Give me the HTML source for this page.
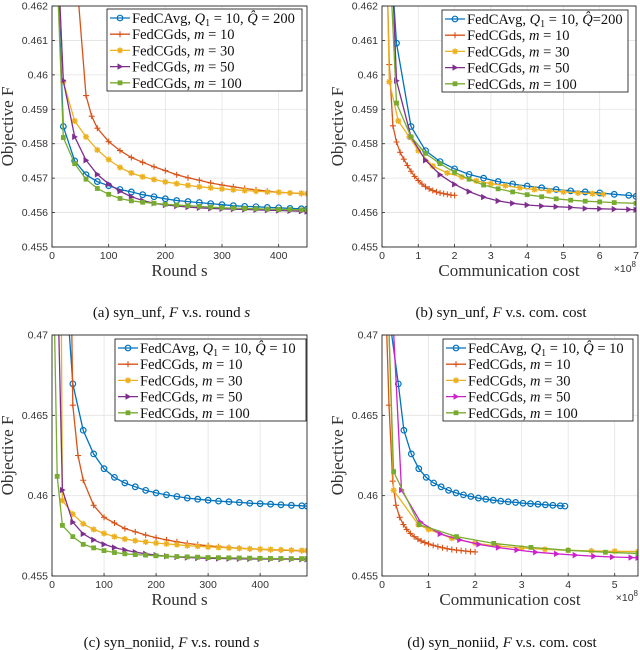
<!DOCTYPE html>
<html><head><meta charset="utf-8">
<style>
html,body{margin:0;padding:0;background:#fff;}
svg{display:block;}
.tick{font-family:"Liberation Sans",sans-serif;font-size:10.5px;fill:#333;}
.lab{font-family:"Liberation Serif",serif;font-size:17px;fill:#333;}
.leg{font-family:"Liberation Serif",serif;font-size:14.5px;fill:#111;}
.cap{font-family:"Liberation Serif",serif;font-size:15px;fill:#111;}
</style></head>
<body>
<svg id="fig" width="640" height="650" viewBox="0 0 640 650" xmlns="http://www.w3.org/2000/svg"></svg>
<script>
// ---- data: panel (a) syn_unf vs round ----
const aRounds = [10,20,40,60,80,100,120,140,160,180,200,220,240,260,280,300,320,340,360,380,400,420,440,450];
const aBlue = [0.4630,0.4585,0.4575,0.4571,0.4569,0.45678,0.45667,0.4566,0.45652,0.45646,0.4564,0.45635,0.45632,0.45629,0.45626,0.45623,0.4562,0.45618,0.45617,0.45615,0.45614,0.45612,0.45611,0.4561];
const aRedX = [45,60,70,80,100,120,140,160,180,200,220,240,260,280,300,320,340,360,380,400,420,440,450];
const aRed = [0.4625,0.4594,0.4588,0.45845,0.45806,0.4578,0.4576,0.45746,0.45733,0.45722,0.4571,0.45701,0.45694,0.45686,0.4568,0.45675,0.4567,0.45666,0.45662,0.45659,0.45657,0.45655,0.45654];
const aYellow = [0.4635,0.4598,0.45866,0.4582,0.45782,0.45754,0.45731,0.45715,0.45704,0.45696,0.45689,0.45684,0.45679,0.45675,0.45672,0.45669,0.45666,0.45664,0.45662,0.4566,0.45659,0.45657,0.45656,0.45655];
const aPurple = [0.4635,0.45983,0.4582,0.45752,0.45711,0.45683,0.45662,0.45646,0.45635,0.45627,0.45622,0.45619,0.45616,0.45614,0.45612,0.45611,0.4561,0.45609,0.45608,0.45607,0.45606,0.45605,0.45604,0.45603];
const aGreen = [0.4625,0.45818,0.45742,0.45697,0.4567,0.45653,0.45641,0.45634,0.4563,0.45627,0.45624,0.45622,0.4562,0.45618,0.45616,0.45614,0.45613,0.45612,0.45611,0.4561,0.45609,0.45609,0.45608,0.45608];
// ---- panel (b) syn_unf vs communication cost (x1e8) ----
const bBlueX = [0.3,0.4,0.8,1.2,1.6,2.0,2.4,2.8,3.2,3.6,4.0,4.4,4.8,5.2,5.6,6.0,6.4,6.8,7.0];
const bBlue = [0.4625,0.46092,0.4585,0.4578,0.45748,0.45727,0.45711,0.457,0.4569,0.45683,0.45677,0.45672,0.45667,0.45663,0.4566,0.45657,0.45653,0.4565,0.45647];
const bRedX = [0.15,0.2,0.3,0.4,0.5,0.6,0.7,0.8,0.9,1.0,1.1,1.2,1.3,1.4,1.5,1.6,1.7,1.8,1.9,2.0];
const bRed = [0.4625,0.4603,0.45852,0.45805,0.45775,0.45755,0.45737,0.4572,0.45705,0.45693,0.45683,0.45675,0.45669,0.45664,0.4566,0.45657,0.45655,0.45653,0.45651,0.4565];
const bYellowX = [0.15,0.2,0.45,0.75,1.0,1.4,1.8,2.2,2.6,3.0,3.4,3.8,4.2,4.6,5.0,5.4,5.8,6.1];
const bYellow = [0.4625,0.4598,0.45866,0.4582,0.4578,0.45735,0.45715,0.45703,0.45692,0.45684,0.45678,0.45672,0.45667,0.45663,0.4566,0.45657,0.45655,0.45653];
const bPurpleX = [0.3,0.4,0.8,1.2,1.6,2.0,2.4,2.8,3.2,3.6,4.0,4.4,4.8,5.2,5.6,6.0,6.4,6.8,7.0];
const bPurple = [0.4625,0.45983,0.4582,0.45752,0.4571,0.45682,0.45661,0.45645,0.45634,0.45627,0.45622,0.45619,0.45617,0.45615,0.45612,0.45611,0.4561,0.45609,0.45608];
const bGreenX = [0.25,0.4,0.8,1.2,1.6,2.0,2.4,2.8,3.2,3.6,4.0,4.4,4.8,5.2,5.6,6.0,6.4,7.0];
const bGreen = [0.4625,0.45918,0.4582,0.45772,0.45742,0.45717,0.45697,0.4568,0.45669,0.4566,0.45652,0.45646,0.4564,0.45636,0.45633,0.45631,0.45629,0.45627];
// ---- panel (c) syn_noniid vs round ----
const cBlueX = [33,40,60,80,100,120,140,160,180,200,220,240,260,280,300,320,340,360,380,400,420,440,460,480,490];
const cBlue = [0.4702,0.46696,0.46407,0.4626,0.46168,0.46114,0.46079,0.46055,0.46033,0.46017,0.46005,0.45995,0.45985,0.45978,0.45972,0.45966,0.45962,0.45958,0.45953,0.4595,0.45947,0.45943,0.4594,0.45937,0.45935];
const cRedX = [38,40,50,60,80,100,120,140,160,180,200,220,240,260,280,300,320,340,360,380,400,420,440,460,480,490];
const cRed = [0.4702,0.46563,0.4625,0.46096,0.4594,0.45865,0.4583,0.45795,0.45775,0.45755,0.45738,0.45725,0.45713,0.45703,0.45695,0.45688,0.45682,0.45677,0.45673,0.45669,0.45666,0.45663,0.45661,0.45659,0.45657,0.45655];
const cYellowX = [18,20,40,60,80,100,120,140,160,180,200,220,240,260,280,300,320,340,360,380,400,420,440,460,480,490];
const cYellow = [0.4702,0.4597,0.45885,0.45825,0.4579,0.45765,0.45745,0.4573,0.4572,0.45712,0.45705,0.457,0.45695,0.45689,0.45685,0.45681,0.45678,0.45675,0.45672,0.45669,0.45667,0.45665,0.45663,0.45661,0.45659,0.45658];
const cPurpleX = [13,20,40,60,80,100,120,140,160,180,200,220,240,260,280,300,320,340,360,380,400,420,440,460,480,490];
const cPurple = [0.4702,0.46035,0.45835,0.45762,0.45725,0.45697,0.45677,0.45662,0.45648,0.45638,0.4563,0.45623,0.45618,0.45615,0.45612,0.4561,0.45609,0.45608,0.45607,0.45606,0.45606,0.45605,0.45605,0.45605,0.45604,0.45604];
const cGreenX = [5,10,20,40,60,80,100,120,140,160,180,200,220,240,260,280,300,320,340,360,380,400,420,440,460,480,490];
const cGreen = [0.4702,0.4612,0.45815,0.45745,0.45697,0.45675,0.45658,0.45646,0.45638,0.45633,0.4563,0.45626,0.45623,0.45621,0.45619,0.45617,0.45615,0.45614,0.45613,0.45612,0.45611,0.4561,0.45609,0.45609,0.45608,0.45608,0.45608];
// ---- panel (d) syn_noniid vs communication cost (x1e8) ----
const dBlueX = [0.2,0.35,0.47,0.63,0.79,0.95,1.11,1.27,1.43,1.59,1.75,1.91,2.07,2.23,2.39,2.55,2.71,2.87,3.03,3.19,3.35,3.51,3.67,3.83,3.93];
const dBlue = [0.4702,0.46696,0.46407,0.4626,0.46168,0.46114,0.46079,0.46055,0.46033,0.46017,0.46005,0.45995,0.45985,0.45978,0.45972,0.45966,0.45962,0.45958,0.45953,0.4595,0.45947,0.45943,0.4594,0.45937,0.45935];
const dRedX = [0.1,0.15,0.23,0.3,0.38,0.46,0.53,0.61,0.69,0.77,0.84,0.92,1.0,1.1,1.2,1.3,1.4,1.5,1.6,1.7,1.8,1.9,2.0];
const dRed = [0.4702,0.46563,0.4609,0.4594,0.45865,0.4582,0.4579,0.45765,0.45745,0.4573,0.45718,0.45708,0.457,0.45691,0.45683,0.45676,0.4567,0.45665,0.45661,0.45658,0.45655,0.45652,0.4565];
const dYellowX = [0.15,0.25,0.78,1.0,1.5,2.0,2.5,3.0,3.5,4.0,4.5,5.0,5.5];
const dYellow = [0.4702,0.46033,0.4582,0.4579,0.45735,0.45705,0.45686,0.45674,0.45666,0.4566,0.45656,0.45654,0.45652];
const dPurpleX = [0.25,0.42,0.83,1.25,1.67,2.08,2.5,2.9,3.3,3.75,4.15,4.55,4.95,5.35,5.5];
const dPurple = [0.4702,0.46035,0.45835,0.45762,0.45725,0.45697,0.45677,0.45662,0.45648,0.45638,0.4563,0.45623,0.45618,0.45615,0.45613];
const dGreenX = [0.15,0.25,0.8,1.6,2.4,3.2,4.0,4.8,5.5];
const dGreen = [0.4702,0.4615,0.4582,0.45745,0.45703,0.45678,0.4566,0.45648,0.4564];
// tick labels
const ticksY1 = ["0.455","0.456","0.457","0.458","0.459","0.46","0.461","0.462"];
const ticksY1v = [0.455,0.456,0.457,0.458,0.459,0.46,0.461,0.462];
const ticksY2 = ["0.455","0.46","0.465","0.47"];
const ticksY2v = [0.455,0.46,0.465,0.47];
const ticksRound = [0,100,200,300,400];
const ticksCostB = [0,1,2,3,4,5,6,7];
const ticksCostD = [0,1,2,3,4,5];

const NS="http://www.w3.org/2000/svg";
const svg=document.getElementById('fig');
const C={blue:"#0072BD",red:"#D95319",yellow:"#EDB120",purple:"#7E2F8E",green:"#77AC30",magenta:"#CC22CC"};
function el(tag,attrs,parent){const e=document.createElementNS(NS,tag);for(const k in attrs)e.setAttribute(k,attrs[k]);(parent||svg).appendChild(e);return e;}

function marker(g,type,x,y,col){
  let m;
  if(type==='o'){m=el('circle',{cx:x,cy:y,r:2.8,fill:'none',stroke:col,'stroke-width':1.2},g);}
  else if(type==='+'){m=el('path',{d:`M${x-3},${y}H${x+3}M${x},${y-3}V${y+3}`,stroke:col,'stroke-width':1.1},g);}
  else if(type==='*'){m=el('path',{d:`M${x-3},${y}H${x+3}M${x},${y-3}V${y+3}M${x-2.2},${y-2.2}L${x+2.2},${y+2.2}M${x-2.2},${y+2.2}L${x+2.2},${y-2.2}`,stroke:col,'stroke-width':1.4},g);}
  else if(type==='>'){m=el('path',{d:`M${x-2.5},${y-3.2}L${x+3.2},${y}L${x-2.5},${y+3.2}Z`,fill:col},g);}
  else {m=el('rect',{x:x-2.4,y:y-2.4,width:4.8,height:4.8,fill:col},g);}
  
  
  return m;
}

function panel(o){
  const g=el('g',{});
  
  
  const L=o.L,R=o.R,T=o.T,B=o.B;
  const sx=v=>L+(v-o.x0)/(o.x1-o.x0)*(R-L);
  const sy=v=>B-(v-o.y0)/(o.y1-o.y0)*(B-T);
  el('rect',{x:L,y:T,width:R-L,height:B-T,fill:'#fff'},g);
  o.xt.forEach(v=>{const gl=el('line',{x1:sx(v),x2:sx(v),y1:T,y2:B,stroke:'#e3e3e3','stroke-width':0.8},g);});
  o.ytv.forEach(v=>{const gl=el('line',{x1:L,x2:R,y1:sy(v),y2:sy(v),stroke:'#e3e3e3','stroke-width':0.8},g);});
  const cp=el('clipPath',{id:'clip-'+o.id},g);
  el('rect',{x:L,y:T,width:R-L,height:B-T},cp);
  const sg=el('g',{'clip-path':`url(#clip-${o.id})`},g);
  
  
  o.series.forEach(s=>{
    const pts=s.x.map((xv,i)=>sx(xv).toFixed(1)+','+sy(s.y[i]).toFixed(1)).join(' ');
    const pl=el('polyline',{points:pts,fill:'none',stroke:s.c,'stroke-width':1.3},sg);
    
    
    s.x.forEach((xv,i)=>marker(sg,s.m,sx(xv),sy(s.y[i]),s.c));
  });
  const box=el('rect',{x:L,y:T,width:R-L,height:B-T,fill:'none',stroke:'#262626','stroke-width':0.9},g);
  
  
  o.xt.forEach((v,i)=>{
    el('line',{x1:sx(v),x2:sx(v),y1:B,y2:B-3,stroke:'#262626','stroke-width':0.8},g);
    const t=el('text',{x:sx(v),y:B+12,'text-anchor':'middle',class:'tick'},g);t.textContent=o.xtl[i];
    
  });
  o.ytv.forEach((v,i)=>{
    el('line',{x1:L,x2:L+3,y1:sy(v),y2:sy(v),stroke:'#262626','stroke-width':0.8},g);
    const t=el('text',{x:L-4,y:sy(v)+3.5,'text-anchor':'end',class:'tick'},g);t.textContent=o.ytl[i];
    
  });
  const xl=el('text',{x:(L+R)/2,y:B+29,'text-anchor':'middle',class:'lab'},g);xl.textContent=o.xlab;
  
  const yx=L-39, yy=(T+B)/2;
  const yl=el('text',{x:yx,y:yy,'text-anchor':'middle',class:'lab',transform:`rotate(-90 ${yx} ${yy})`},g);yl.textContent='Objective F';
  
  if(o.exp){
    const ex=el('text',{x:R,y:B+25,'text-anchor':'end',class:'tick','font-size':'10'},g);
    
    ex.innerHTML='×10<tspan dy="-5" font-size="8">8</tspan>';
  }
  const lg=el('g',{},g);
  
  
  el('rect',{x:o.lx,y:o.ly,width:o.lw,height:82,fill:'#fff',stroke:'#262626','stroke-width':0.9},lg);
  o.series.forEach((s,i)=>{
    const cy=o.ly+9+i*16.2;
    const e=el('g',{},lg);
    
    
    el('line',{x1:o.lx+3,x2:o.lx+23,y1:cy,y2:cy,stroke:s.c,'stroke-width':1.3},e);
    marker(e,s.m,o.lx+13,cy,s.c);
    const t=el('text',{x:o.lx+25,y:cy+5,class:'leg'},e);
    t.innerHTML=s.lab;
  });
  const cap=el('text',{x:(L+R)/2-8,y:o.capY,'text-anchor':'middle',class:'cap'},g);
  cap.innerHTML=o.cap;
  
}
const m=(v)=>`FedCGds, <tspan font-style="italic">m</tspan> = ${v}`;
const favg=(q)=>`FedCAvg, <tspan font-style="italic">Q</tspan><tspan font-size="10" dy="3">1</tspan><tspan dy="-3"> = 10, </tspan><tspan font-style="italic">Q̂</tspan>${q}`;

panel({id:'a',L:52,R:307,T:6,B:247,x0:0,x1:450,y0:0.455,y1:0.462,xt:ticksRound,xtl:ticksRound.map(String),ytv:ticksY1v,ytl:ticksY1,
 xlab:'Round s',lx:107,ly:9,lw:195,capY:317,cap:'(a)  syn_unf, <tspan font-style="italic">F</tspan> v.s. round <tspan font-style="italic">s</tspan>',
 series:[{n:'fedcavg',x:aRounds,y:aBlue,c:C.blue,m:'o',lab:favg(' = 200')},{n:'m10',x:aRedX,y:aRed,c:C.red,m:'+',lab:m(10)},
 {n:'m30',x:aRounds,y:aYellow,c:C.yellow,m:'*',lab:m(30)},{n:'m50',x:aRounds,y:aPurple,c:C.purple,m:'>',lab:m(50)},{n:'m100',x:aRounds,y:aGreen,c:C.green,m:'s',lab:m(100)}]});
panel({id:'b',L:382,R:636,T:6,B:247,x0:0,x1:7,y0:0.455,y1:0.462,xt:ticksCostB,xtl:ticksCostB.map(String),ytv:ticksY1v,ytl:ticksY1,exp:true,
 xlab:'Communication cost',lx:442,ly:10,lw:186,capY:317,cap:'(b)  syn_unf, <tspan font-style="italic">F</tspan> v.s. com. cost',
 series:[{n:'fedcavg',x:bBlueX,y:bBlue,c:C.blue,m:'o',lab:favg('=200')},{n:'m10',x:bRedX,y:bRed,c:C.red,m:'+',lab:m(10)},
 {n:'m30',x:bYellowX,y:bYellow,c:C.yellow,m:'*',lab:m(30)},{n:'m50',x:bPurpleX,y:bPurple,c:C.purple,m:'>',lab:m(50)},{n:'m100',x:bGreenX,y:bGreen,c:C.green,m:'s',lab:m(100)}]});
panel({id:'c',L:52,R:307,T:335,B:576,x0:0,x1:490,y0:0.455,y1:0.47,xt:ticksRound,xtl:ticksRound.map(String),ytv:ticksY2v,ytl:ticksY2,
 xlab:'Round s',lx:115,ly:339,lw:191,capY:647,cap:'(c)  syn_noniid, <tspan font-style="italic">F</tspan> v.s. round <tspan font-style="italic">s</tspan>',
 series:[{n:'fedcavg',x:cBlueX,y:cBlue,c:C.blue,m:'o',lab:favg(' = 10')},{n:'m10',x:cRedX,y:cRed,c:C.red,m:'+',lab:m(10)},
 {n:'m30',x:cYellowX,y:cYellow,c:C.yellow,m:'*',lab:m(30)},{n:'m50',x:cPurpleX,y:cPurple,c:C.purple,m:'>',lab:m(50)},{n:'m100',x:cGreenX,y:cGreen,c:C.green,m:'s',lab:m(100)}]});
panel({id:'d',L:382,R:638,T:335,B:576,x0:0,x1:5.5,y0:0.455,y1:0.47,xt:ticksCostD,xtl:ticksCostD.map(String),ytv:ticksY2v,ytl:ticksY2,exp:true,
 xlab:'Communication cost',lx:443,ly:339,lw:190,capY:647,cap:'(d)  syn_noniid, <tspan font-style="italic">F</tspan> v.s. com. cost',
 series:[{n:'fedcavg',x:dBlueX,y:dBlue,c:C.blue,m:'o',lab:favg(' = 10')},{n:'m10',x:dRedX,y:dRed,c:C.red,m:'+',lab:m(10)},
 {n:'m30',x:dYellowX,y:dYellow,c:C.yellow,m:'*',lab:m(30)},{n:'m50',x:dPurpleX,y:dPurple,c:C.magenta,m:'>',lab:m(50)},{n:'m100',x:dGreenX,y:dGreen,c:C.green,m:'s',lab:m(100)}]});
</script>
</body></html>
